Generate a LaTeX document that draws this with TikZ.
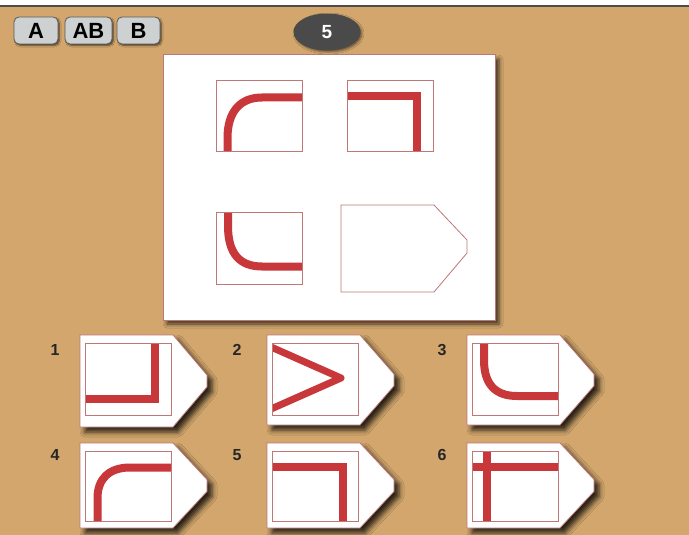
\documentclass[tikz,border=0pt]{standalone}
\usepackage{fontspec}
\setmainfont{Liberation Sans}
\usetikzlibrary{shadows.blur}
\definecolor{tanbg}{RGB}{210,166,108}
\definecolor{redline}{RGB}{200,56,58}
\definecolor{framec}{RGB}{190,120,120}
\definecolor{btnfill}{RGB}{206,209,209}
\definecolor{ovalc}{RGB}{74,74,74}
\tikzset{
  cardshape/.style={fill=white, draw=framec, line width=0.8pt,
    blur shadow={shadow xshift=5pt, shadow yshift=-5pt, shadow blur radius=5pt, shadow opacity=80}},
  panelshape/.style={fill=white, draw=framec, line width=1pt,
    blur shadow={shadow xshift=4pt, shadow yshift=-4pt, shadow blur radius=4pt, shadow opacity=70}},
  innerbox/.style={draw=framec, line width=0.8pt},
  redbar/.style={draw=redline, line width=8pt},
  numlabel/.style={font=\bfseries\fontsize{16}{16}\selectfont, text=black!85},
  btn/.style={draw=gray!70!black, line width=0.8pt, fill=btnfill, rounded corners=5pt,
    minimum height=27pt, inner sep=0pt, font=\bfseries\fontsize{22}{22}\selectfont,
    blur shadow={shadow xshift=1.5pt, shadow yshift=-1.5pt, shadow blur radius=1.5pt, shadow opacity=60}},
}
\newcommand\qcard[5]{%
  \path[cardshape] (#1,#2) -- ({#1+93},#2) -- ({#1+127},{(#2+#3)/2-6}) -- ({#1+127},{(#2+#3)/2+6})
     -- ({#1+93},#3) -- (#1,#3) -- cycle;
  \begin{scope}
    \clip ({#1+5},{#2+8}) rectangle ({#1+91},#4);
    #5
  \end{scope}
  \draw[innerbox] ({#1+5},{#2+8}) rectangle ({#1+91},#4);
}
\begin{document}
\begin{tikzpicture}[x=1pt,y=-1pt]
\fill[tanbg] (0,0) rectangle (689,535);
\useasboundingbox (0,0) rectangle (689,535);
\fill[white] (0,0) rectangle (689,5);
\fill[black!70] (0,5) rectangle (689,7.5);

% buttons
\node[btn, minimum width=44pt] (bA) at (36,30.5) {A};
\node[btn, minimum width=47pt] (bAB) at (88.5,30.5) {AB};
\node[btn, minimum width=43pt] (bB) at (138.5,30.5) {B};

% main panel
\path[panelshape] (163,55) rectangle (495,320);

% oval with number
\fill[ovalc, blur shadow={shadow xshift=1.5pt, shadow yshift=-1.5pt, shadow blur radius=2pt, shadow opacity=50}] (327,32) ellipse [x radius=33.5, y radius=18.5];
\node[text=white, font=\bfseries\fontsize{19}{19}\selectfont] (qnum) at (327,32) {5};

% cell 1 (top-left)
\begin{scope}
  \clip (216,80) rectangle (302,151);
  \draw[redbar] (227.5,165) -- (227.5,138) .. controls (227.5,112) and (240,97.5) .. (262,97.5) -- (315,97.5);
\end{scope}
\draw[innerbox] (216,80) rectangle (302,151);

% cell 2 (top-right)
\begin{scope}
  \clip (347,80) rectangle (433,151);
  \draw[redbar] (335,96.5) -- (416.5,96.5) -- (416.5,165);
\end{scope}
\draw[innerbox] (347,80) rectangle (433,151);

% cell 3 (bottom-left)
\begin{scope}
  \clip (216,212) rectangle (302,284);
  \draw[redbar] (228,200) -- (228,226) .. controls (228,254) and (240,266.5) .. (262,266.5) -- (315,266.5);
\end{scope}
\draw[innerbox] (216,212) rectangle (302,284);

% cell 4 (blank pentagon)
\draw[innerbox] (341,205) -- (434,205) -- (467,240) -- (467,253) -- (434,292) -- (341,292) -- cycle;

% answer cards
\qcard{80}{335}{427}{415}{\draw[redbar] (75,398.5) -- (155,398.5) -- (155,330);}
\qcard{267}{335}{425}{415}{\draw[redbar, line join=round, line width=7pt] (262,343) -- (341,378) -- (262,413);}
\qcard{467}{335}{425}{415}{\draw[redbar] (484,330) -- (484,360) .. controls (484,384) and (495,396) .. (517,396) -- (570,396);}
\qcard{80}{443}{528}{521}{\draw[redbar] (97.5,535) -- (97.5,498) .. controls (97.5,479) and (109,467.5) .. (130,467.5) -- (180,467.5);}
\qcard{267}{443}{528}{521}{\draw[redbar] (260,466.5) -- (342.5,466.5) -- (342.5,535);}
\qcard{467}{443}{528}{521}{\draw[redbar] (460,466.5) -- (570,466.5); \draw[redbar] (487,440) -- (487,535);}

% numbers
\node[numlabel] (n1) at (55,350) {1};
\node[numlabel] (n2) at (237,350) {2};
\node[numlabel] (n3) at (442,350) {3};
\node[numlabel] (n4) at (55,455) {4};
\node[numlabel] (n5) at (237,455) {5};
\node[numlabel] (n6) at (442,455) {6};
\end{tikzpicture}
\end{document}
